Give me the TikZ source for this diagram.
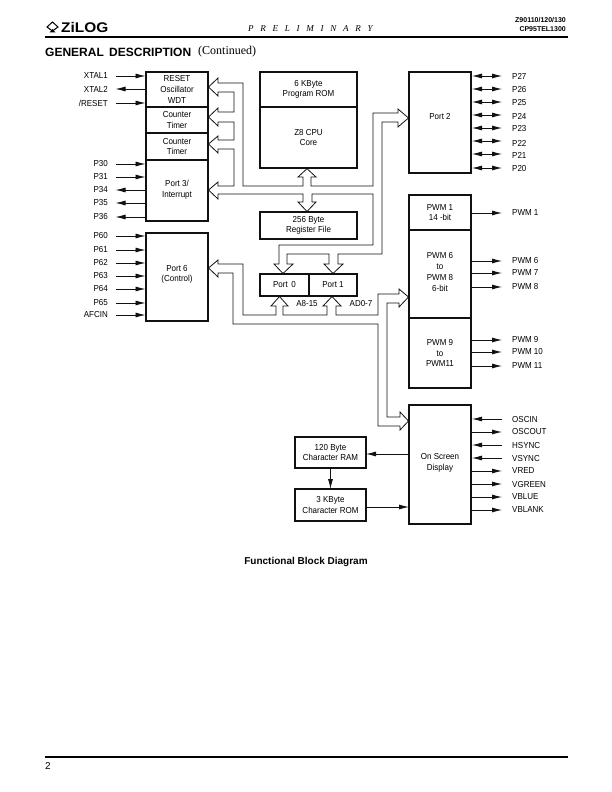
\documentclass[tikz,border=0pt]{standalone}
\usepackage{fontspec}
\setmainfont{Liberation Sans}
\newfontfamily\timesfont{Liberation Serif}
\newfontfamily\spacedfont[LetterSpace=75]{Liberation Serif}
\newfontfamily\pinfont[FakeStretch=0.92]{Liberation Sans}
\usetikzlibrary{positioning,arrows.meta,calc}
\definecolor{tinta}{HTML}{111111}

\begin{document}
\begin{tikzpicture}[x=1pt,y=-1pt,font=\fontsize{8.7}{10.7}\selectfont\pinfont,
      blk/.style={draw=tinta, line width=1.7pt, inner sep=0pt, outer sep=0pt, align=center, anchor=north west},
      lbl/.style={inner sep=0pt, anchor=west},
      rlbl/.style={inner sep=0pt, anchor=east},
      pinin/.style={draw=tinta, line width=0.8pt, -{Latex[length=10pt,width=5pt]}},
      pinbi/.style={draw=tinta, line width=0.8pt, {Latex[length=10pt,width=5pt]}-{Latex[length=10pt,width=5pt]}},
      bus/.style={draw=tinta, line width=0.8pt, line join=miter},
      rule/.style={draw=black, line width=1.8pt}]
  \useasboundingbox (0,0) rectangle (612,792);

  % page header
  \draw[rule] (45,37) coordinate (hl) -- (568,37) coordinate (hr);
  \node[lbl, font=\fontsize{9}{9}\selectfont\spacedfont\itshape] (prelim) at (248,29) {PRELIMINARY};
  \node[rlbl, font=\fontsize{7}{7}\selectfont\rmfamily\bfseries] (part1) at (566,20) {Z90110/120/130};
  \node[rlbl, font=\fontsize{7}{7}\selectfont\rmfamily\bfseries] (part2) at (566,29) {CP95TEL1300};
  \node[lbl, font=\fontsize{12}{12}\selectfont\rmfamily\bfseries] (title) at (45,52) {GENERAL\, DESCRIPTION};
  \node[lbl, font=\fontsize{12}{12}\selectfont\timesfont] (cont) at (198,52) {(Continued)};

  % logo
  \draw[line width=1pt] (52.5,22) -- (58,27) -- (52.5,31) -- (47,27) -- cycle;
  \fill (52.5,29) -- (55.5,32.5) -- (49.5,32.5) -- cycle;
  \node[lbl, font=\fontsize{14}{14}\selectfont\rmfamily\bfseries] (logo) at (61,27) {\scalebox{1.1}[1]{ZiLOG}};

  % left column
  \node[blk, minimum width=62pt, minimum height=35pt] (rst) at (146,72) {RESET\\Oscillator\\WDT};
  \node[blk, minimum width=62pt, minimum height=26pt] (ct1) at (146,107) {Counter\\Timer};
  \node[blk, minimum width=62pt, minimum height=27pt] (ct2) at (146,133) {Counter\\Timer};
  \node[blk, minimum width=62pt, minimum height=61pt] (p3) at (146,160) {Port 3/\\Interrupt\\[-6.7pt]\,};
  \node[blk, minimum width=62pt, minimum height=88pt] (p6) at (146,233) {Port 6\\(Control)\\[-3.7pt]\,};

  % middle column
  \node[blk, minimum width=97pt, minimum height=35pt] (rom) at (260,72) {6 KByte\\Program ROM};
  \node[blk, minimum width=97pt, minimum height=61pt] (cpu) at (260,107) {Z8 CPU\\Core};
  \node[blk, minimum width=97pt, minimum height=27pt] (reg) at (260,212) {256 Byte\\Register File};
  \node[blk, minimum width=49pt, minimum height=22pt] (p0) at (260,274) {Port\, 0};
  \node[blk, minimum width=48pt, minimum height=22pt] (p1) at (309,274) {Port 1};
  \node[inner sep=0pt] (a8) at (307,304) {A8-15};
  \node[inner sep=0pt] (ad) at (361,304) {AD0-7};

  % right column
  \node[blk, minimum width=62pt, minimum height=101pt] (p2) at (409,72) {Port 2\\[1.3pt]\,};
  \node[blk, minimum width=62pt, minimum height=35pt] (pwa) at (409,195) {PWM 1\\14 -bit};
  \node[blk, minimum width=62pt, minimum height=88pt] (pwb) at (409,230) {PWM 6\\to\\PWM 8\\6-bit\\[-6.7pt]\,};
  \node[blk, minimum width=62pt, minimum height=70pt] (pwc) at (409,318) {PWM 9\\to\\PWM11};
  \node[blk, minimum width=62pt, minimum height=119pt] (osd) at (409,405) {On Screen\\Display\\[-5.7pt]\,};
  \node[blk, minimum width=71pt, minimum height=31pt] (ram) at (295,437) {120 Byte\\Character RAM};
  \node[blk, minimum width=71pt, minimum height=32pt] (crom) at (295,489) {3 KByte\\Character ROM};

  % pins on the left
  \foreach \nm/\yy/\txt/\dir in {xa/76/XTAL1/i,xb/89/XTAL2/o,xc/103/{/RESET}/i,
      pa/164/P30/i,pb/177/P31/i,pc/190/P34/o,pd/203/P35/o,pe/217/P36/o,
      qa/236/P60/i,qb/250/P61/i,qc/263/P62/i,qd/276/P63/i,qe/289/P64/i,qf/303/P65/i,qg/315/AFCIN/i}{
    \node[rlbl] (\nm) at (108,\yy) {\txt};
    \coordinate (\nm w) at (115.5,\yy);
    \coordinate (\nm e) at (145.5,\yy);
    \if\dir i
      \draw[pinin] (\nm w) -- (\nm e);
    \else
      \draw[pinin] (\nm e) -- (\nm w);
    \fi
  }

  % pins on the right
  \foreach \nm/\yy/\ln/\txt/\dir in {ra/76/76/P27/b,rb/90/89/P26/b,rc/103/102/P25/b,rd/116/115/P24/b,
      re/129/128/P23/b,rf/143/141/P22/b,rg/155/154/P21/b,rh/169/168/P20/b,
      sa/213/213/PWM 1/o,sb/261/261/PWM 6/o,sc/273/273/PWM 7/o,sd/287/287/PWM 8/o,
      se/340/340/PWM 9/o,sf/352/352/PWM 10/o,sg/366/366/PWM 11/o,
      ta/419/419/OSCIN/i,tb/432/432/OSCOUT/o,tc/445/445/HSYNC/i,td/458/458/VSYNC/i,
      te/471/471/VRED/o,tf/484/484/VGREEN/o,tg/497/497/VBLUE/o,th/510/510/VBLANK/o}{
    \node[lbl] (\nm) at (512,\yy) {\txt};
    \coordinate (\nm w) at (472,\ln);
    \coordinate (\nm e) at (502,\ln);
    \if\dir b
      \draw[pinbi] (\nm w) -- (\nm e);
    \else\if\dir i
      \draw[pinin] (\nm e) -- (\nm w);
    \else
      \draw[pinin] (\nm w) -- (\nm e);
    \fi\fi
  }

  % character memories
  \draw[pinin] (osd.west |- 0,454) -- (ram.east |- 0,454);
  \draw[pinin] (ram.south) -- (crom.north);
  \draw[pinin] (crom.east |- 0,507) -- (osd.west |- 0,507);

  % internal data bus
  \draw[bus] (218,83) -- (243,83) -- (243,186) -- (303,186) -- (303,177) -- (298,177)
    -- (307,168.7) -- (316,177) -- (311,177) -- (311,186) -- (373,186) -- (373,113) -- (398,113)
    -- (398,109) -- (408.5,118) -- (398,127) -- (398,122) -- (382,122) -- (382,254) -- (338,254)
    -- (338,264) -- (343,264) -- (333,273.5) -- (324,264) -- (329,264) -- (329,254) -- (287,254)
    -- (287,264) -- (293,264) -- (283,273.5) -- (274,264) -- (279,264) -- (279,245) -- (373,245)
    -- (373,194) -- (312,194) -- (312,202) -- (316,202) -- (307,211.5) -- (298,202) -- (303,202)
    -- (303,194) -- (218,194) -- (218,199) -- (208.5,190) -- (218,182) -- (218,186) -- (234,186)
    -- (234,149) -- (218,149) -- (218,153) -- (208.5,144) -- (218,136) -- (218,140) -- (234,140)
    -- (234,122) -- (218,122) -- (218,126) -- (208.5,117) -- (218,108) -- (218,112) -- (234,112)
    -- (234,92) -- (218,92) -- (218,96) -- (208.5,87) -- (218,78) -- cycle;

  % address and data bus
  \draw[bus] (218,264) -- (243,264) -- (243,315) -- (276,315) -- (276,306) -- (271,306)
    -- (279.5,296.5) -- (288,306) -- (283,306) -- (283,315) -- (327,315) -- (327,306) -- (323,306)
    -- (332,296.5) -- (341,306) -- (336,306) -- (336,315) -- (378,315) -- (378,294) -- (399,294)
    -- (399,289) -- (408.5,297) -- (399,307) -- (399,303) -- (387,303) -- (387,417) -- (400,417)
    -- (400,412) -- (408.5,421) -- (400,430) -- (400,426) -- (378,426) -- (378,324) -- (233,324)
    -- (233,273) -- (218,273) -- (218,277) -- (208.5,268) -- (218,260) -- cycle;

  % caption and page foot
  \node[font=\fontsize{10}{10}\selectfont\rmfamily\bfseries] (cap) at (306,562) {Functional Block Diagram};
  \draw[rule] (45,757) coordinate (fl) -- (568,757) coordinate (fr);
  \node[lbl, font=\fontsize{10}{10}\selectfont\rmfamily] (pg) at (45,766) {2};
\end{tikzpicture}
\end{document}
